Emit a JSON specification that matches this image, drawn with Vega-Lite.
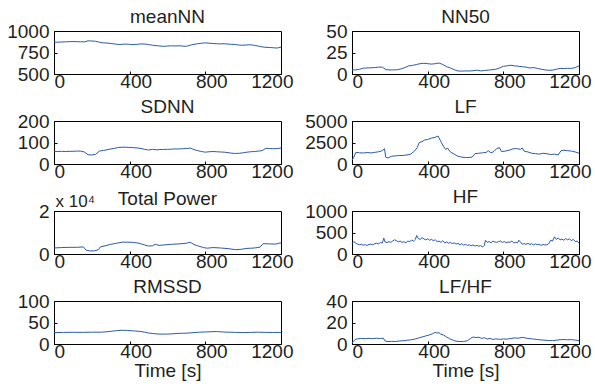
{
  "$schema": "https://vega.github.io/schema/vega-lite/v6.json",
  "padding": {"left": 6, "top": 7, "right": 0, "bottom": 0},
  "background": "white",
  "config": {
    "view": {"stroke": "#000", "strokeWidth": 1},
    "font": "Liberation Sans",
    "axis": {
      "labelFont": "Liberation Sans",
      "labelFontSize": 19,
      "labelColor": "#231f20",
      "titleFont": "Liberation Sans",
      "titleFontSize": 19,
      "titleFontWeight": "normal",
      "titleColor": "#231f20",
      "domainColor": "#000",
      "tickColor": "#000",
      "tickSize": -3,
      "labelPadding": 8,
      "grid": false
    },
    "axisX": {"labelFlush": true, "labelOffset": 6, "labelFlushOffset": 6, "labelPadding": 1, "titlePadding": 0},
    "title": {"font": "Liberation Sans", "fontSize": 19, "fontWeight": "normal", "color": "#231f20", "offset": -5, "anchor": "middle", "baseline": "alphabetic"},
    "line": {"color": "#2a5aaa", "strokeWidth": 1}
  },
  "datasets": {
    "meanNN": [
      {"t":0,"v":870},{"t":20,"v":870},{"t":40,"v":872},{"t":60,"v":874},{"t":80,"v":876},{"t":100,"v":877},{"t":120,"v":876},{"t":140,"v":875},{"t":160,"v":874},{"t":180,"v":885},{"t":200,"v":884},{"t":220,"v":880},{"t":240,"v":870},{"t":260,"v":862},{"t":280,"v":860},{"t":300,"v":855},{"t":320,"v":850},{"t":340,"v":843},{"t":360,"v":845},{"t":380,"v":848},{"t":400,"v":845},{"t":420,"v":842},{"t":440,"v":845},{"t":460,"v":850},{"t":480,"v":848},{"t":500,"v":843},{"t":520,"v":835},{"t":540,"v":830},{"t":560,"v":825},{"t":580,"v":822},{"t":600,"v":825},{"t":620,"v":828},{"t":640,"v":826},{"t":660,"v":828},{"t":680,"v":825},{"t":700,"v":822},{"t":720,"v":835},{"t":740,"v":845},{"t":760,"v":852},{"t":780,"v":858},{"t":800,"v":862},{"t":820,"v":858},{"t":840,"v":855},{"t":860,"v":852},{"t":880,"v":850},{"t":900,"v":852},{"t":920,"v":848},{"t":940,"v":845},{"t":960,"v":842},{"t":980,"v":836},{"t":1000,"v":835},{"t":1020,"v":838},{"t":1040,"v":840},{"t":1060,"v":832},{"t":1080,"v":825},{"t":1100,"v":815},{"t":1120,"v":810},{"t":1140,"v":808},{"t":1160,"v":805},{"t":1180,"v":802},{"t":1200,"v":812}
    ],
    "NN50": [
      {"t":0,"v":4.7},{"t":20,"v":4.8},{"t":40,"v":5.5},{"t":60,"v":6.8},{"t":80,"v":7},{"t":100,"v":7.2},{"t":120,"v":7.5},{"t":140,"v":8},{"t":160,"v":8},{"t":180,"v":5},{"t":200,"v":4.7},{"t":220,"v":4.8},{"t":240,"v":5},{"t":260,"v":6},{"t":280,"v":7.5},{"t":300,"v":9.5},{"t":320,"v":10},{"t":340,"v":11},{"t":360,"v":12},{"t":380,"v":12.5},{"t":400,"v":12},{"t":420,"v":11.5},{"t":440,"v":12},{"t":460,"v":12.8},{"t":480,"v":11},{"t":500,"v":8.5},{"t":520,"v":7},{"t":540,"v":5},{"t":560,"v":3.5},{"t":580,"v":3.4},{"t":600,"v":3.6},{"t":620,"v":3.5},{"t":640,"v":3.8},{"t":660,"v":4.5},{"t":680,"v":3.6},{"t":700,"v":4},{"t":720,"v":4.5},{"t":740,"v":5},{"t":760,"v":5.5},{"t":780,"v":7},{"t":800,"v":9},{"t":820,"v":9.5},{"t":840,"v":10.2},{"t":860,"v":9.4},{"t":880,"v":9},{"t":900,"v":8.5},{"t":920,"v":8},{"t":940,"v":7},{"t":960,"v":7.5},{"t":980,"v":6.5},{"t":1000,"v":5.5},{"t":1020,"v":4.8},{"t":1040,"v":4.3},{"t":1060,"v":4.5},{"t":1080,"v":5.5},{"t":1100,"v":6.5},{"t":1120,"v":6.3},{"t":1140,"v":6.6},{"t":1160,"v":6.5},{"t":1180,"v":7.5},{"t":1200,"v":9.5}
    ],
    "SDNN": [
      {"t":0,"v":58},{"t":20,"v":58},{"t":40,"v":59},{"t":60,"v":58},{"t":80,"v":59},{"t":100,"v":59},{"t":120,"v":60},{"t":140,"v":60},{"t":160,"v":56},{"t":180,"v":43},{"t":200,"v":42},{"t":220,"v":45},{"t":240,"v":60},{"t":260,"v":63},{"t":280,"v":66},{"t":300,"v":70},{"t":320,"v":73},{"t":340,"v":77},{"t":360,"v":78},{"t":380,"v":78},{"t":400,"v":77},{"t":420,"v":76},{"t":440,"v":75},{"t":460,"v":72},{"t":480,"v":68},{"t":500,"v":65},{"t":520,"v":68},{"t":540,"v":66},{"t":560,"v":67},{"t":580,"v":68},{"t":600,"v":68},{"t":620,"v":69},{"t":640,"v":70},{"t":660,"v":70},{"t":680,"v":71},{"t":700,"v":72},{"t":720,"v":74},{"t":740,"v":67},{"t":760,"v":62},{"t":780,"v":58},{"t":800,"v":55},{"t":820,"v":57},{"t":840,"v":58},{"t":860,"v":57},{"t":880,"v":56},{"t":900,"v":55},{"t":920,"v":53},{"t":940,"v":50},{"t":960,"v":49},{"t":980,"v":50},{"t":1000,"v":52},{"t":1020,"v":55},{"t":1040,"v":57},{"t":1060,"v":58},{"t":1080,"v":60},{"t":1100,"v":62},{"t":1120,"v":73},{"t":1140,"v":72},{"t":1160,"v":71},{"t":1180,"v":72},{"t":1200,"v":74}
    ],
    "LF": [
      {"t":0,"v":450},{"t":10,"v":800},{"t":20,"v":1350},{"t":40,"v":1300},{"t":60,"v":1280},{"t":80,"v":1330},{"t":100,"v":1290},{"t":120,"v":1350},{"t":140,"v":1420},{"t":160,"v":1550},{"t":172,"v":1780},{"t":178,"v":800},{"t":190,"v":700},{"t":210,"v":900},{"t":230,"v":950},{"t":250,"v":980},{"t":270,"v":1000},{"t":290,"v":1050},{"t":310,"v":1150},{"t":330,"v":1500},{"t":345,"v":1900},{"t":355,"v":2500},{"t":370,"v":2600},{"t":385,"v":2800},{"t":400,"v":2850},{"t":420,"v":3000},{"t":440,"v":3100},{"t":455,"v":3250},{"t":470,"v":2600},{"t":485,"v":2000},{"t":495,"v":1700},{"t":505,"v":1850},{"t":520,"v":1400},{"t":540,"v":1150},{"t":560,"v":900},{"t":580,"v":800},{"t":600,"v":750},{"t":620,"v":760},{"t":635,"v":800},{"t":650,"v":1200},{"t":670,"v":1250},{"t":690,"v":1300},{"t":710,"v":1350},{"t":720,"v":1550},{"t":735,"v":1300},{"t":750,"v":1450},{"t":765,"v":1800},{"t":780,"v":1900},{"t":790,"v":1450},{"t":810,"v":1500},{"t":830,"v":1600},{"t":850,"v":1750},{"t":870,"v":1800},{"t":890,"v":1700},{"t":900,"v":1850},{"t":910,"v":1500},{"t":930,"v":1400},{"t":950,"v":1250},{"t":970,"v":1200},{"t":990,"v":1150},{"t":1010,"v":1250},{"t":1030,"v":1200},{"t":1050,"v":1100},{"t":1070,"v":1150},{"t":1090,"v":1050},{"t":1105,"v":1550},{"t":1120,"v":1600},{"t":1140,"v":1550},{"t":1160,"v":1500},{"t":1180,"v":1400},{"t":1200,"v":1250}
    ],
    "TP": [
      {"t":0,"v":0.28},{"t":40,"v":0.3},{"t":80,"v":0.31},{"t":120,"v":0.31},{"t":155,"v":0.33},{"t":170,"v":0.18},{"t":190,"v":0.14},{"t":215,"v":0.15},{"t":235,"v":0.2},{"t":245,"v":0.33},{"t":270,"v":0.38},{"t":300,"v":0.45},{"t":330,"v":0.5},{"t":360,"v":0.55},{"t":390,"v":0.55},{"t":420,"v":0.54},{"t":450,"v":0.5},{"t":480,"v":0.42},{"t":500,"v":0.37},{"t":520,"v":0.38},{"t":535,"v":0.45},{"t":555,"v":0.4},{"t":580,"v":0.42},{"t":620,"v":0.45},{"t":660,"v":0.47},{"t":700,"v":0.5},{"t":720,"v":0.55},{"t":740,"v":0.44},{"t":760,"v":0.38},{"t":790,"v":0.3},{"t":810,"v":0.27},{"t":840,"v":0.3},{"t":880,"v":0.28},{"t":920,"v":0.25},{"t":960,"v":0.2},{"t":990,"v":0.22},{"t":1020,"v":0.26},{"t":1060,"v":0.28},{"t":1090,"v":0.32},{"t":1105,"v":0.48},{"t":1140,"v":0.47},{"t":1170,"v":0.46},{"t":1200,"v":0.52}
    ],
    "HF": [
      {"t":0,"v":240},{"t":10,"v":290},{"t":20,"v":250},{"t":30,"v":230},{"t":40,"v":215},{"t":50,"v":225},{"t":60,"v":205},{"t":70,"v":215},{"t":80,"v":200},{"t":90,"v":220},{"t":100,"v":230},{"t":110,"v":215},{"t":120,"v":240},{"t":130,"v":250},{"t":140,"v":235},{"t":150,"v":265},{"t":160,"v":255},{"t":168,"v":370},{"t":175,"v":280},{"t":185,"v":265},{"t":195,"v":290},{"t":205,"v":270},{"t":215,"v":300},{"t":225,"v":330},{"t":235,"v":310},{"t":245,"v":285},{"t":255,"v":300},{"t":265,"v":270},{"t":275,"v":285},{"t":285,"v":260},{"t":295,"v":300},{"t":305,"v":290},{"t":315,"v":320},{"t":325,"v":300},{"t":335,"v":340},{"t":342,"v":430},{"t":350,"v":360},{"t":360,"v":340},{"t":370,"v":380},{"t":380,"v":350},{"t":390,"v":330},{"t":400,"v":355},{"t":410,"v":320},{"t":420,"v":340},{"t":430,"v":310},{"t":440,"v":330},{"t":450,"v":290},{"t":460,"v":300},{"t":470,"v":270},{"t":480,"v":310},{"t":490,"v":260},{"t":500,"v":280},{"t":510,"v":250},{"t":520,"v":270},{"t":530,"v":240},{"t":540,"v":260},{"t":550,"v":230},{"t":560,"v":250},{"t":570,"v":215},{"t":580,"v":240},{"t":590,"v":205},{"t":600,"v":225},{"t":610,"v":200},{"t":620,"v":215},{"t":630,"v":190},{"t":640,"v":210},{"t":650,"v":185},{"t":660,"v":200},{"t":670,"v":180},{"t":680,"v":195},{"t":690,"v":165},{"t":700,"v":200},{"t":705,"v":320},{"t":715,"v":270},{"t":725,"v":290},{"t":735,"v":260},{"t":745,"v":300},{"t":755,"v":280},{"t":765,"v":270},{"t":775,"v":290},{"t":785,"v":300},{"t":795,"v":270},{"t":805,"v":290},{"t":815,"v":260},{"t":825,"v":280},{"t":835,"v":270},{"t":845,"v":300},{"t":855,"v":260},{"t":865,"v":270},{"t":875,"v":260},{"t":882,"v":320},{"t":890,"v":280},{"t":900,"v":230},{"t":910,"v":240},{"t":920,"v":225},{"t":930,"v":250},{"t":940,"v":220},{"t":950,"v":240},{"t":960,"v":210},{"t":970,"v":235},{"t":980,"v":215},{"t":990,"v":225},{"t":1000,"v":200},{"t":1010,"v":220},{"t":1020,"v":210},{"t":1030,"v":215},{"t":1040,"v":240},{"t":1050,"v":320},{"t":1060,"v":300},{"t":1070,"v":400},{"t":1080,"v":340},{"t":1090,"v":370},{"t":1100,"v":330},{"t":1110,"v":345},{"t":1120,"v":320},{"t":1130,"v":360},{"t":1140,"v":330},{"t":1150,"v":350},{"t":1160,"v":310},{"t":1170,"v":340},{"t":1180,"v":290},{"t":1190,"v":300},{"t":1200,"v":250}
    ],
    "RMSSD": [
      {"t":0,"v":26.5},{"t":50,"v":27},{"t":100,"v":27.2},{"t":150,"v":27},{"t":200,"v":27.5},{"t":250,"v":27.5},{"t":280,"v":28.5},{"t":300,"v":29.5},{"t":330,"v":31},{"t":360,"v":32},{"t":390,"v":31.5},{"t":420,"v":30.5},{"t":450,"v":29.5},{"t":480,"v":27.5},{"t":500,"v":25.5},{"t":530,"v":24},{"t":560,"v":23},{"t":590,"v":23},{"t":620,"v":23.5},{"t":650,"v":24.5},{"t":680,"v":25},{"t":710,"v":25.5},{"t":740,"v":26.5},{"t":770,"v":27.5},{"t":800,"v":28},{"t":830,"v":28.5},{"t":860,"v":29},{"t":890,"v":28},{"t":920,"v":27.5},{"t":960,"v":27},{"t":1000,"v":26.5},{"t":1040,"v":27},{"t":1080,"v":27.5},{"t":1120,"v":27},{"t":1160,"v":26.8},{"t":1200,"v":27}
    ],
    "LFHF": [
      {"t":0,"v":0.8},{"t":10,"v":3},{"t":20,"v":4.5},{"t":30,"v":4.8},{"t":50,"v":5.2},{"t":70,"v":4.9},{"t":90,"v":5.3},{"t":110,"v":5},{"t":130,"v":5.4},{"t":150,"v":5.1},{"t":165,"v":5.5},{"t":175,"v":2.8},{"t":190,"v":2.2},{"t":210,"v":2.5},{"t":230,"v":2.3},{"t":250,"v":2.8},{"t":270,"v":3},{"t":290,"v":3.5},{"t":310,"v":3.8},{"t":330,"v":4.5},{"t":350,"v":5.5},{"t":370,"v":6.5},{"t":390,"v":7.5},{"t":410,"v":8.5},{"t":425,"v":9.5},{"t":440,"v":10.8},{"t":450,"v":10.2},{"t":460,"v":10.5},{"t":470,"v":9},{"t":485,"v":8.2},{"t":500,"v":6.5},{"t":515,"v":5},{"t":530,"v":3.8},{"t":550,"v":2.6},{"t":570,"v":2.3},{"t":590,"v":2.4},{"t":610,"v":3},{"t":625,"v":5},{"t":640,"v":6.5},{"t":655,"v":6},{"t":670,"v":6.3},{"t":685,"v":5.2},{"t":700,"v":5.8},{"t":715,"v":4.6},{"t":730,"v":5.2},{"t":745,"v":4.2},{"t":760,"v":4.8},{"t":780,"v":4.3},{"t":800,"v":4.7},{"t":820,"v":4.5},{"t":840,"v":5.2},{"t":860,"v":5.6},{"t":880,"v":5.4},{"t":900,"v":6.2},{"t":920,"v":5.5},{"t":940,"v":5},{"t":960,"v":4.6},{"t":980,"v":4.2},{"t":1000,"v":3.8},{"t":1020,"v":3.5},{"t":1040,"v":3.2},{"t":1060,"v":3.1},{"t":1080,"v":3.5},{"t":1100,"v":4},{"t":1120,"v":4.2},{"t":1140,"v":3.9},{"t":1160,"v":4.1},{"t":1180,"v":3.6},{"t":1200,"v":3.2}
    ]
  },
  "columns": 2,
  "bounds": "flush",
  "spacing": {"row": 47, "column": 71},
  "concat": [
    {"data": {"name": "meanNN"}, "title": "meanNN", "width": 227, "height": 43, "mark": "line",
     "encoding": {"x": {"field": "t", "type": "quantitative", "scale": {"domain": [0, 1200]}, "axis": {"values": [0, 400, 800, 1200], "format": "d", "title": null}},
                  "y": {"field": "v", "type": "quantitative", "scale": {"domain": [500, 1000]}, "axis": {"values": [500, 750, 1000], "format": "d", "title": null}}}},
    {"data": {"name": "NN50"}, "title": "NN50", "width": 227, "height": 43, "mark": "line",
     "encoding": {"x": {"field": "t", "type": "quantitative", "scale": {"domain": [0, 1200]}, "axis": {"values": [0, 400, 800, 1200], "format": "d", "title": null}},
                  "y": {"field": "v", "type": "quantitative", "scale": {"domain": [0, 50]}, "axis": {"values": [0, 25, 50], "format": "d", "title": null}}}},
    {"data": {"name": "SDNN"}, "title": "SDNN", "width": 227, "height": 43, "mark": "line",
     "encoding": {"x": {"field": "t", "type": "quantitative", "scale": {"domain": [0, 1200]}, "axis": {"values": [0, 400, 800, 1200], "format": "d", "title": null}},
                  "y": {"field": "v", "type": "quantitative", "scale": {"domain": [0, 200]}, "axis": {"values": [0, 100, 200], "format": "d", "title": null}}}},
    {"data": {"name": "LF"}, "title": "LF", "width": 227, "height": 43, "mark": "line",
     "encoding": {"x": {"field": "t", "type": "quantitative", "scale": {"domain": [0, 1200]}, "axis": {"values": [0, 400, 800, 1200], "format": "d", "title": null}},
                  "y": {"field": "v", "type": "quantitative", "scale": {"domain": [0, 5000]}, "axis": {"values": [0, 2500, 5000], "format": "d", "title": null}}}},
    {"data": {"name": "TP"}, "title": {"text": "Total Power", "offset": -17}, "width": 227, "height": 43, "mark": "line",
     "encoding": {"x": {"field": "t", "type": "quantitative", "scale": {"domain": [0, 1200]}, "axis": {"values": [0, 400, 800, 1200], "format": "d", "title": null}},
                  "y": {"field": "v", "type": "quantitative", "scale": {"domain": [0, 2]}, "axis": {"values": [0, 1, 2], "format": "d", "title": "x 10⁴", "titleAngle": 0, "titleAlign": "left", "titleBaseline": "bottom", "titleX": 1, "titleY": -1, "titleFontSize": 17}}}},
    {"data": {"name": "HF"}, "title": "HF", "width": 227, "height": 43, "mark": "line",
     "encoding": {"x": {"field": "t", "type": "quantitative", "scale": {"domain": [0, 1200]}, "axis": {"values": [0, 400, 800, 1200], "format": "d", "title": null}},
                  "y": {"field": "v", "type": "quantitative", "scale": {"domain": [0, 1000]}, "axis": {"values": [0, 500, 1000], "format": "d", "title": null}}}},
    {"data": {"name": "RMSSD"}, "title": "RMSSD", "width": 227, "height": 43, "mark": "line",
     "encoding": {"x": {"field": "t", "type": "quantitative", "scale": {"domain": [0, 1200]}, "axis": {"values": [0, 400, 800, 1200], "format": "d", "title": "Time [s]"}},
                  "y": {"field": "v", "type": "quantitative", "scale": {"domain": [0, 100]}, "axis": {"values": [0, 50, 100], "format": "d", "title": null}}}},
    {"data": {"name": "LFHF"}, "title": "LF/HF", "width": 227, "height": 43, "mark": "line",
     "encoding": {"x": {"field": "t", "type": "quantitative", "scale": {"domain": [0, 1200]}, "axis": {"values": [0, 400, 800, 1200], "format": "d", "title": "Time [s]"}},
                  "y": {"field": "v", "type": "quantitative", "scale": {"domain": [0, 40]}, "axis": {"values": [0, 20, 40], "format": "d", "title": null}}}}
  ]
}
